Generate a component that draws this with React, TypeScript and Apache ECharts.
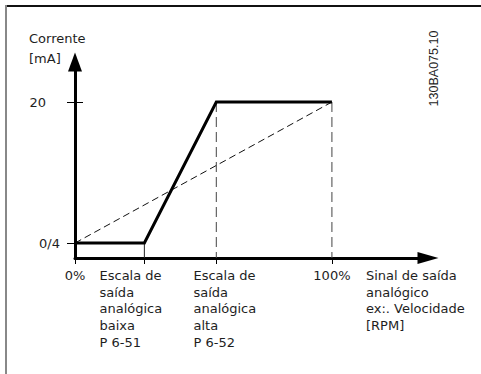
import React, { useEffect, useRef } from "react";
import * as echarts from "echarts";

// Axis extents (value units)
const X_MIN = 0;
const X_MAX = 137.4;
const Y_MIN = 2.3;
const Y_MAX = 24.54;

// Key x positions (% of analog output signal)
const LOW_SCALE = 27;
const HIGH_SCALE = 55;
const FULL_SCALE = 100;

// Current levels (mA)
const I_LOW = 4;
const I_HIGH = 20;

const xTickValues = [0, LOW_SCALE, HIGH_SCALE, FULL_SCALE];
const xTickLabels = [
  "0%",
  "Escala de\nsaída\nanalógica\nbaixa\nP 6-51",
  "Escala de\nsaída\nanalógica\nalta\nP 6-52",
  "100%",
];
const yTickValues = [I_LOW, I_HIGH];
const yTickLabels = ["0/4", "20"];

// Output current curve (solid, thick)
const outputCurve: [number, number][] = [
  [0, I_LOW],
  [LOW_SCALE, I_LOW],
  [HIGH_SCALE, I_HIGH],
  [FULL_SCALE, I_HIGH],
];
// Linear reference (dashed)
const linearRef: [number, number][] = [
  [0, I_LOW],
  [FULL_SCALE, I_HIGH],
];
const lowMarker: [number, number][] = [
  [LOW_SCALE, I_LOW],
  [LOW_SCALE, Y_MIN],
];
const highMarker: [number, number][] = [
  [HIGH_SCALE, I_HIGH],
  [HIGH_SCALE, Y_MIN],
];
const fullMarker: [number, number][] = [
  [FULL_SCALE, I_HIGH],
  [FULL_SCALE, Y_MIN],
];

const yName = "Corrente\n[mA]";
const xName = "Sinal de saída\nanalógico\nex:. Velocidade\n[RPM]";
const drawingCode = "130BA075.10";

const FONT = "DejaVu Sans";
const TEXT = "#1e1e1e";

export default function App() {
  const ref = useRef<HTMLDivElement>(null);
  useEffect(() => {
    if (!ref.current) return;
    const chart = echarts.init(ref.current, undefined, { renderer: "svg" });

    const richLines = (text: string, key: string) =>
      text
        .split("\n")
        .map((l) => `{${key}|${l}}`)
        .join("\n");

    const xLabelFormatter = (v: number) => {
      const i = xTickValues.indexOf(v);
      if (i < 0) return "";
      const t = xTickLabels[i];
      if (i === 1) return richLines(t, "lo");
      if (i === 2) return richLines(t, "hi");
      return `{c|${t}}`;
    };

    const lineSeries = (
      data: [number, number][],
      width: number,
      color: string,
      type: any
    ) => ({
      type: "line",
      data,
      symbol: "none",
      silent: true,
      lineStyle: { width, color, type, cap: "butt", join: "miter" },
      z: 3,
    });

    chart.setOption({
      animation: false,
      backgroundColor: "#fff",
      title: {
        text: yName,
        left: 29,
        top: 28,
        padding: 0,
        textStyle: {
          fontFamily: FONT,
          fontSize: 13,
          fontWeight: "normal",
          color: TEXT,
          lineHeight: 20,
        },
      },
      grid: { left: 75, top: 62, right: 53, bottom: 116, containLabel: false },
      xAxis: {
        type: "value",
        min: X_MIN,
        max: X_MAX,
        name: xName,
        nameLocation: "end",
        nameGap: -62,
        nameTextStyle: {
          fontFamily: FONT,
          fontSize: 13,
          color: TEXT,
          lineHeight: 16.7,
          align: "left",
          verticalAlign: "top",
          padding: [9, 0, 0, 0],
        },
        splitLine: { show: false },
        axisLine: {
          show: true,
          onZero: false,
          symbol: ["none", "triangle"],
          symbolSize: [12, 21],
          lineStyle: { color: "#000", width: 3 },
        },
        axisTick: {
          show: true,
          inside: false,
          length: 6,
          customValues: xTickValues,
          lineStyle: { color: "#000", width: 1 },
        },
        axisLabel: {
          show: true,
          customValues: xTickValues,
          margin: 9,
          formatter: xLabelFormatter,
          fontFamily: FONT,
          fontSize: 13,
          color: TEXT,
          lineHeight: 16.7,
          align: "center",
          verticalAlign: "top",
          rich: {
            c: { fontFamily: FONT, fontSize: 13, color: TEXT, lineHeight: 16.7 },
            lo: {
              fontFamily: FONT,
              fontSize: 13,
              color: TEXT,
              lineHeight: 16.7,
              align: "left",
              padding: [0, 27, 0, 0],
            },
            hi: {
              fontFamily: FONT,
              fontSize: 13,
              color: TEXT,
              lineHeight: 16.7,
              align: "left",
              padding: [0, 0, 0, 17],
            },
          },
        },
      },
      yAxis: [
        {
          type: "value",
          min: Y_MIN,
          max: Y_MAX,
          position: "left",
          splitLine: { show: false },
          axisLine: {
            show: true,
            onZero: false,
            symbol: ["none", "triangle"],
            symbolSize: [14, 19],
            lineStyle: { color: "#000", width: 3 },
          },
          axisTick: {
            show: true,
            inside: false,
            length: 8,
            customValues: yTickValues,
            lineStyle: { color: "#000", width: 1 },
          },
          axisLabel: {
            show: true,
            customValues: yTickValues,
            margin: 15,
            formatter: (v: number) => {
              const i = yTickValues.indexOf(v);
              if (i < 0) return "";
              return i === 1 ? `{p|${yTickLabels[i]}}` : `{n|${yTickLabels[i]}}`;
            },
            fontFamily: FONT,
            fontSize: 13,
            color: TEXT,
            rich: {
              n: { fontFamily: FONT, fontSize: 13, color: TEXT },
              p: { fontFamily: FONT, fontSize: 13, color: TEXT, padding: [0, 14, 0, 0] },
            },
          },
        },
        {
          type: "value",
          min: Y_MIN,
          max: Y_MAX,
          position: "left",
          splitLine: { show: false },
          axisLine: { show: false },
          axisLabel: { show: false },
          axisTick: {
            show: true,
            inside: true,
            length: 8,
            customValues: [I_HIGH],
            lineStyle: { color: "#000", width: 1 },
          },
        },
      ],
      series: [
        lineSeries(lowMarker, 1, "#222", "solid"),
        lineSeries(highMarker, 1, "#444", [10, 5]),
        lineSeries(fullMarker, 1, "#444", [10, 5]),
        lineSeries(linearRef, 1, "#111", [7, 4]),
        lineSeries(outputCurve, 3, "#000", "solid"),
      ],
      graphic: [
        {
          type: "line",
          shape: { x1: 6, y1: 6, x2: 481, y2: 6 },
          style: { stroke: "#111", lineWidth: 2 },
          silent: true,
        },
        {
          type: "line",
          shape: { x1: 6, y1: 5, x2: 6, y2: 374 },
          style: { stroke: "#888", lineWidth: 2 },
          silent: true,
        },
        {
          type: "text",
          x: 434,
          y: 68.5,
          rotation: Math.PI / 2,
          style: {
            text: drawingCode,
            fontFamily: "Liberation Sans",
            fontSize: 12.5,
            fill: TEXT,
            align: "center",
            verticalAlign: "middle",
          },
          silent: true,
        },
      ],
    });
    return () => chart.dispose();
  }, []);

  return (
    <div
      ref={ref}
      style={{ position: "fixed", left: 0, top: 0, width: 481, height: 374 }}
    />
  );
}
